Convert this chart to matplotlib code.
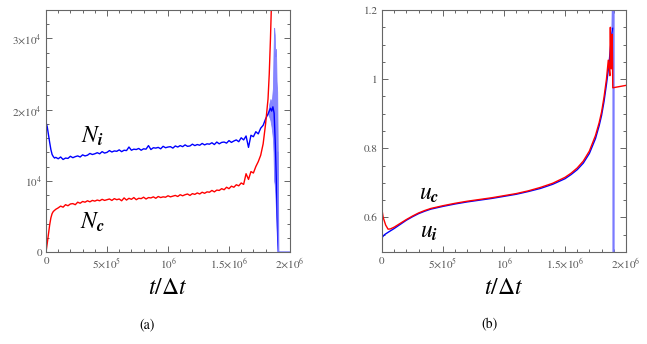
import numpy as np
import matplotlib
matplotlib.use("Agg")
import matplotlib.pyplot as plt
from matplotlib.ticker import MultipleLocator

plt.rcParams['mathtext.fontset'] = 'stix'
plt.rcParams['font.family'] = 'STIXGeneral'

# ---- panel (a): N_i (blue) and N_c (red), t in units of 1e6 ----
ni_t = [0, 0.01, 0.02, 0.03, 0.04, 0.05, 0.06, 0.07, 0.08,
        0.10, 0.12, 0.14, 0.16, 0.18, 0.20, 0.22, 0.24, 0.26, 0.28,
        0.30, 0.32, 0.34, 0.36, 0.38, 0.40, 0.42, 0.44, 0.46, 0.48,
        0.50, 0.52, 0.54, 0.56, 0.58, 0.60, 0.62, 0.64, 0.66, 0.68,
        0.70, 0.72, 0.74, 0.76, 0.78, 0.80, 0.82, 0.84, 0.86, 0.88,
        0.90, 0.92, 0.94, 0.96, 0.98, 1.00, 1.02, 1.04, 1.06, 1.08,
        1.10, 1.12, 1.14, 1.16, 1.18, 1.20, 1.22, 1.24, 1.26, 1.28,
        1.30, 1.32, 1.34, 1.36, 1.38, 1.40, 1.42, 1.44, 1.46, 1.48,
        1.50, 1.52, 1.54, 1.56, 1.58, 1.60, 1.62, 1.64, 1.66, 1.68,
        1.70, 1.72, 1.74, 1.76, 1.78, 1.80, 1.82, 1.84, 1.85, 1.86,
        1.87, 1.88, 1.89, 1.895, 1.90, 1.905]
ni = [18200, 17600, 16500, 15400, 14400, 13700, 13400, 13200, 13300,
      13100, 13350, 13000, 13200, 13150, 13450, 13250, 13400, 13500, 13350,
      13650, 13500, 13600, 13850, 13700, 13800, 13950, 13800, 14100, 13900,
      14000, 14250, 14050, 14200, 14150, 14350, 14100, 14300, 14250, 14750,
      14300, 14450, 14400, 14550, 14300, 14500, 14450, 14950, 14400, 14650,
      14600, 14700, 14500, 14850, 14650, 14750, 14800, 14600, 14900, 14750,
      14950, 14800, 15050, 14850, 14900, 15150, 14950, 15100, 15000, 15250,
      15050, 15200, 15150, 15350, 15100, 15450, 15200, 15400, 15450, 15300,
      15650, 15400, 15600, 15750, 15500, 16050, 15750, 16300, 14700, 16400,
      16200, 16900, 16600, 17400, 17800, 18700, 19400, 20200, 19800, 20400,
      19500, 15000, 9000, 5000, 1500, 0]

# dense oscillating tail of N_i (light band)
band_t = [1.82, 1.83, 1.84, 1.85, 1.86, 1.865, 1.87, 1.875, 1.88, 1.885, 1.89, 1.895, 1.90, 1.905, 2.0]
band_hi = [19400, 20800, 21500, 21000, 23000, 28000, 31500, 30500, 27500, 28500, 24000, 22500, 14000, 0, 0]
band_lo = [19400, 19000, 18500, 17500, 16000, 14000, 10000, 9500, 8000, 6000, 4000, 2000, 0, 0, 0]

nc_t = [0, 0.01, 0.02, 0.03, 0.04, 0.05, 0.06, 0.08,
        0.10, 0.12, 0.14, 0.16, 0.18, 0.20, 0.22, 0.24, 0.26, 0.28,
        0.30, 0.32, 0.34, 0.36, 0.38, 0.40, 0.42, 0.44, 0.46, 0.48,
        0.50, 0.52, 0.54, 0.56, 0.58, 0.60, 0.62, 0.64, 0.66, 0.68,
        0.70, 0.72, 0.74, 0.76, 0.78, 0.80, 0.82, 0.84, 0.86, 0.88,
        0.90, 0.92, 0.94, 0.96, 0.98, 1.00, 1.02, 1.04, 1.06, 1.08,
        1.10, 1.12, 1.14, 1.16, 1.18, 1.20, 1.22, 1.24, 1.26, 1.28,
        1.30, 1.32, 1.34, 1.36, 1.38, 1.40, 1.42, 1.44, 1.46, 1.48,
        1.50, 1.52, 1.54, 1.56, 1.58, 1.60, 1.62, 1.64, 1.66, 1.68,
        1.70, 1.72, 1.74, 1.76, 1.78, 1.80, 1.82, 1.83, 1.84, 1.85]
nc = [0, 1200, 2500, 3800, 4800, 5400, 5700, 6000,
      6200, 6450, 6300, 6650, 6500, 6750, 6800, 6650, 7000, 6850,
      7100, 7000, 7200, 7050, 7250, 7150, 7300, 7200, 7400, 7250,
      7350, 7450, 7250, 7500, 7350, 7450, 7200, 7600, 7300, 7550,
      7400, 7650, 7350, 7550, 7500, 7700, 7450, 7650, 7600, 7750,
      7550, 7800, 7650, 7750, 7700, 7900, 7750, 7850, 7950, 7800,
      8050, 7900, 8050, 8150, 7950, 8200, 8100, 8300, 8150, 8400,
      8250, 8450, 8400, 8650, 8450, 8700, 8650, 8900, 8750, 9100,
      8900, 9250, 9100, 9450, 9300, 9700, 9500, 11000, 10200, 11300,
      11100, 12000, 12700, 13600, 15200, 18000, 21500, 25000, 30000, 36000]

# ---- panel (b): u_i (blue) and u_c (red) ----
ui_t = [0, 0.003, 0.02, 0.05, 0.1, 0.15, 0.2, 0.25, 0.3, 0.35, 0.4, 0.5, 0.6, 0.7,
        0.8, 0.9, 1.0, 1.1, 1.2, 1.3, 1.4, 1.5, 1.55, 1.6, 1.65, 1.7, 1.75, 1.78,
        1.8, 1.82, 1.84, 1.86, 1.87, 1.88, 1.89]
ui = [0.5, 0.543, 0.55, 0.557, 0.568, 0.58, 0.592, 0.602, 0.611, 0.618, 0.624, 0.632,
      0.639, 0.645, 0.650, 0.655, 0.661, 0.667, 0.675, 0.684, 0.696, 0.712, 0.724,
      0.738, 0.757, 0.785, 0.828, 0.865, 0.895, 0.935, 0.985, 1.04, 1.08, 1.12, 1.147]
ui_spike_t = [1.89, 1.898, 1.898]
ui_spike = [1.147, 1.3, 0.4]

uc_t = [0, 0.003, 0.01, 0.03, 0.05, 0.07, 0.1, 0.15, 0.2, 0.25, 0.3, 0.35, 0.4, 0.5,
        0.6, 0.7, 0.8, 0.9, 1.0, 1.1, 1.2, 1.3, 1.4, 1.5, 1.55, 1.6, 1.65, 1.7, 1.75,
        1.78, 1.8, 1.82, 1.84, 1.855, 1.862, 1.868, 1.872, 1.876, 1.88, 1.887, 1.892, 2.0]
uc = [0.59, 0.615, 0.6, 0.578, 0.566, 0.567, 0.572, 0.583, 0.594, 0.604, 0.613, 0.62,
      0.626, 0.634, 0.641, 0.647, 0.652, 0.657, 0.663, 0.669, 0.677, 0.687, 0.699,
      0.716, 0.728, 0.743, 0.763, 0.792, 0.837, 0.874, 0.905, 0.948, 1.0, 1.055,
      1.03, 1.01, 1.15, 1.04, 1.03, 1.13, 0.975, 0.982]

xticks = [0, 0.5, 1.0, 1.5, 2.0]
xticklabels = ['0', r'$5{\times}10^{5}$', r'$10^{6}$', r'$1.5{\times}10^{6}$', r'$2{\times}10^{6}$']
yticks_a = [0, 1e4, 2e4, 3e4]
yticklabels_a = ['0', r'$10^{4}$', r'$2{\times}10^{4}$', r'$3{\times}10^{4}$']
yticks_b = [0.6, 0.8, 1.0, 1.2]
yticklabels_b = ['0.6', '0.8', '1', '1.2']

BLUE = '#0000ff'
LIGHT = '#7a7aff'
RED = '#ff0000'
GRAY = '#666666'

fig = plt.figure(figsize=(6.47, 3.44), dpi=100)
ax1 = fig.add_axes([0.0711, 0.2674, 0.3771, 0.7035])
ax2 = fig.add_axes([0.5904, 0.2674, 0.3771, 0.7035])


def style(ax):
    for s in ax.spines.values():
        s.set_color(GRAY)
        s.set_linewidth(0.8)
    ax.tick_params(which='both', direction='in', top=True, right=True,
                   colors=GRAY, labelcolor='#555555', labelsize=8, width=0.7, pad=3)
    ax.tick_params(which='major', length=4)
    ax.tick_params(which='minor', length=2.5)
    ax.xaxis.set_minor_locator(MultipleLocator(0.1))
    ax.set_xlim(0, 2.0)
    ax.set_xticks(xticks)
    ax.set_xticklabels(xticklabels)
    ax.set_xlabel(r'$t/\Delta t$', fontsize=17, labelpad=5)


# (a)
ax1.fill_between(band_t, band_lo, band_hi, color=LIGHT, lw=0.6, alpha=0.9)
ax1.plot(ni_t, ni, color=BLUE, lw=1.0)
ax1.plot(band_t[-3:], band_hi[-3:], color=LIGHT, lw=1.0)
ax1.plot(nc_t, nc, color=RED, lw=1.0)
ax1.set_ylim(0, 34000)
ax1.yaxis.set_minor_locator(MultipleLocator(2000))
ax1.set_yticks(yticks_a)
ax1.set_yticklabels(yticklabels_a)
style(ax1)
ax1.text(0.38, 16300, r'$N_{\mathbfit{i}}$', fontsize=17, ha='center', va='center')
ax1.text(0.38, 4200, r'$N_{\mathbfit{c}}$', fontsize=17, ha='center', va='center')

# (b)
ax2.plot(ui_spike_t, ui_spike, color=LIGHT, lw=1.6)
ax2.plot(ui_t, ui, color=BLUE, lw=1.0)
ax2.plot(uc_t, uc, color=RED, lw=1.0)
ax2.set_ylim(0.5, 1.2)
ax2.yaxis.set_minor_locator(MultipleLocator(0.05))
ax2.set_yticks(yticks_b)
ax2.set_yticklabels(yticklabels_b)
style(ax2)
ax2.text(0.39, 0.668, r'$u_{\mathbfit{c}}$', fontsize=17, ha='center', va='center')
ax2.text(0.39, 0.556, r'$u_{\mathbfit{i}}$', fontsize=17, ha='center', va='center')

fig.text(147 / 647, 1 - 325 / 344, '(a)', fontsize=10, ha='center', va='center')
fig.text(490 / 647, 1 - 325 / 344, '(b)', fontsize=10, ha='center', va='center')

fig.savefig('out.png', dpi=100)
